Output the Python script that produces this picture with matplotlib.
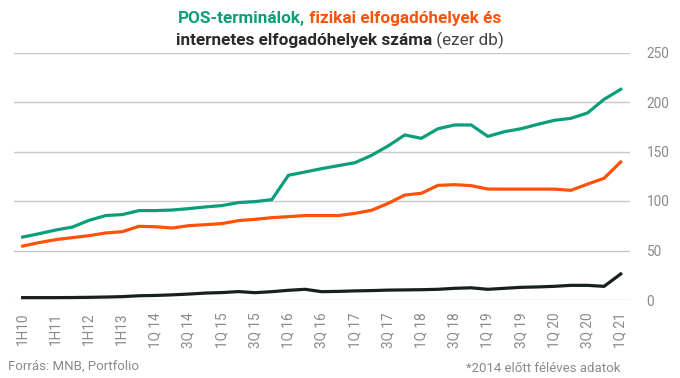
import matplotlib
matplotlib.use("Agg")
import matplotlib.pyplot as plt

plt.rcParams['font.family'] = ['Roboto', 'DejaVu Sans']

# pre-2014 half-year data, quarterly afterwards
periods = (['1H10', '2H10', '1H11', '2H11', '1H12', '2H12', '1H13', '2H13']
           + [f'{q}Q{y}' for y in range(14, 21) for q in range(1, 5)]
           + ['1Q21'])

tick_labels = ['1H10', '1H11', '1H12', '1H13', '1Q 14', '3Q 14', '1Q 15', '3Q 15',
               '1Q 16', '3Q 16', '1Q 17', '3Q 17', '1Q 18', '3Q 18', '1Q 19',
               '3Q 19', '1Q 20', '3Q 20', '1Q 21']

pos_terminals = [63.6, 67.0, 70.7, 73.7, 80.5, 85.3, 86.3, 90.3, 90.3, 90.9,
                 92.3, 94.0, 95.4, 98.4, 99.4, 101.4, 126.0, 129.3, 132.7, 135.7,
                 138.7, 146.1, 155.6, 166.7, 163.3, 173.0, 176.8, 176.8, 165.3, 170.0,
                 173.0, 177.4, 181.5, 183.5, 188.9, 202.7, 212.8]

physical = [54.5, 58.0, 61.0, 63.0, 65.0, 67.7, 69.0, 74.4, 74.0, 72.7,
            75.1, 76.1, 77.2, 80.2, 81.5, 83.2, 84.2, 85.3, 85.3, 85.3,
            87.5, 90.6, 97.6, 106.0, 107.8, 115.8, 116.5, 115.5, 112.1, 112.0,
            112.0, 112.0, 112.0, 110.8, 117.0, 123.0, 139.4]

internet = [2.4, 2.4, 2.4, 2.5, 2.7, 3.0, 3.4, 4.3, 4.6, 5.2,
            6.0, 7.0, 7.5, 8.5, 7.4, 8.4, 9.8, 10.8, 8.4, 8.7,
            9.2, 9.5, 10.0, 10.2, 10.4, 10.8, 11.8, 12.3, 10.8, 11.8,
            12.8, 13.2, 13.8, 14.8, 14.8, 13.8, 26.3]

green = '#0b9e7b'
orange = '#ff5208'
dark = '#16201d'

fig = plt.figure(figsize=(6.8, 3.78), dpi=100)
ax = fig.add_axes([14 / 680, 1 - 300 / 378, 616 / 680, 247.5 / 378])

x = range(len(periods))
ax.plot(x, pos_terminals, color=green, lw=2.3, solid_joinstyle='miter')
ax.plot(x, physical, color=orange, lw=2.3, solid_joinstyle='miter')
ax.plot(x, internet, color=dark, lw=2.3, solid_joinstyle='miter')

ax.set_xlim(-0.52, 36.56)
ax.set_ylim(0, 250)
ax.set_yticks([0, 50, 100, 150, 200, 250])
ax.yaxis.tick_right()
ax.grid(axis='y', color='#c8c8c8', lw=1)
ax.set_axisbelow(True)
for s in ax.spines.values():
    s.set_visible(False)
ax.tick_params(axis='y', length=0, pad=12, labelsize=9.8, labelcolor='#8a8a8a')
ax.set_xticks(range(0, len(periods), 2))
ax.set_xticklabels(tick_labels, rotation=90, va='top', ha='center')
ax.tick_params(axis='x', length=0, pad=9, labelsize=9.8, labelcolor='#8a8a8a')


def title_line(parts, y, size):
    renderer = fig.canvas.get_renderer()
    texts = [fig.text(0, y, s, color=c, fontweight=w, fontsize=size, va='baseline')
             for s, c, w in parts]
    widths = [t.get_window_extent(renderer).width for t in texts]
    left = (fig.bbox.width - sum(widths)) / 2
    for t, w in zip(texts, widths):
        t.set_x(left / fig.bbox.width)
        left += w


title_line([('POS-terminálok,', green, 'bold'),
            (' fizikai elfogadóhelyek és', orange, 'bold')], 1 - 23 / 378, 12.3)
title_line([('internetes elfogadóhelyek száma', '#2a2a2a', 'bold'),
            (' (ezer db)', '#444444', 'normal')], 1 - 45.5 / 378, 12.3)

fig.text(8 / 680, 1 - 370 / 378, 'Forrás: MNB, Portfolio', fontsize=9.5,
         color='#8a8a8a', va='baseline')
fig.text(620 / 680, 1 - 372 / 378, '*2014 előtt féléves adatok', fontsize=9.5,
         color='#8a8a8a', va='baseline', ha='right')

fig.savefig('out.png', dpi=100)
